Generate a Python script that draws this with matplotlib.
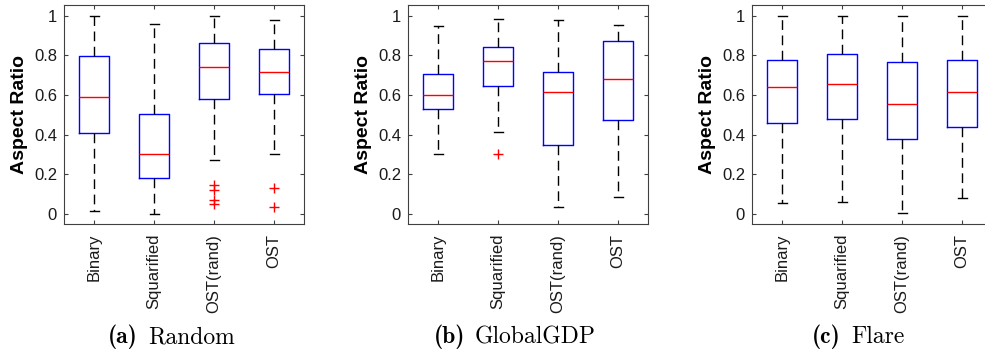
import numpy as np
import matplotlib
matplotlib.use("Agg")
import matplotlib.pyplot as plt

plt.rcParams['font.family'] = ['Liberation Sans', 'DejaVu Sans']

methods = ['Binary', 'Squarified', 'OST(rand)', 'OST']
yticks = [0, 0.2, 0.4, 0.6, 0.8, 1]
ytick_labels = ['0', '0.2', '0.4', '0.6', '0.8', '1']

# (a) Random
rand_lo = [0.015, 0.0, 0.272, 0.302]
rand_q1 = [0.408, 0.183, 0.580, 0.603]
rand_med = [0.590, 0.302, 0.743, 0.714]
rand_q3 = [0.798, 0.503, 0.862, 0.834]
rand_hi = [1.0, 0.958, 1.0, 0.980]
rand_out = [[], [], [0.146, 0.123, 0.072, 0.050], [0.131, 0.035]]

# (b) GlobalGDP
gdp_lo = [0.304, 0.413, 0.035, 0.087]
gdp_q1 = [0.528, 0.645, 0.348, 0.476]
gdp_med = [0.598, 0.771, 0.615, 0.679]
gdp_q3 = [0.707, 0.844, 0.714, 0.874]
gdp_hi = [0.950, 0.983, 0.976, 0.951]
gdp_out = [[], [0.304], [], []]

# (c) Flare
flare_lo = [0.057, 0.060, 0.003, 0.082]
flare_q1 = [0.457, 0.477, 0.378, 0.437]
flare_med = [0.642, 0.654, 0.556, 0.613]
flare_q3 = [0.778, 0.808, 0.768, 0.778]
flare_hi = [1.0, 1.0, 0.997, 1.0]
flare_out = [[], [], [], []]

W, H = 985, 355
fig = plt.figure(figsize=(W / 100, H / 100), dpi=100)

axes_left = [64, 408, 752]      # px
cap_split = [143, 470, 846]     # px, gap between "(a)" and the name
cap_tags = ['(a)', '(b)', '(c)']
cap_names = ['Random', 'GlobalGDP', 'Flare']
datasets = [
    (rand_lo, rand_q1, rand_med, rand_q3, rand_hi, rand_out),
    (gdp_lo, gdp_q1, gdp_med, gdp_q3, gdp_hi, gdp_out),
    (flare_lo, flare_q1, flare_med, flare_q3, flare_hi, flare_out),
]

edge = '#404040'

for k, (lo, q1, med, q3, hi, out) in enumerate(datasets):
    ax = fig.add_axes([axes_left[k] / W, (H - 224) / H, 240 / W, 219 / H])
    stats = []
    for i in range(len(methods)):
        stats.append(dict(whislo=lo[i], q1=q1[i], med=med[i], q3=q3[i],
                          whishi=hi[i], fliers=np.array(out[i]), label=methods[i]))
    ax.bxp(stats, positions=[1, 2, 3, 4], widths=0.5, capwidths=0.15,
           boxprops=dict(color='blue', lw=1),
           medianprops=dict(color='red', lw=1),
           whiskerprops=dict(color='black', lw=1, linestyle=(0, (7, 4))),
           capprops=dict(color='black', lw=1),
           flierprops=dict(marker='+', markeredgecolor='red', markersize=7,
                           linestyle='none'))
    ax.set_xlim(0.5, 4.5)
    ax.set_ylim(-0.05, 1.054)
    ax.set_yticks(yticks)
    ax.set_yticklabels(ytick_labels)
    ax.set_xticks([1, 2, 3, 4])
    ax.set_xticklabels(methods, rotation=90)
    ax.tick_params(direction='in', top=True, right=True, length=3,
                   width=0.8, color=edge, labelsize=12, labelcolor='#1a1a1a')
    ax.tick_params(axis='x', pad=7)
    ax.tick_params(axis='y', pad=5)
    for s in ax.spines.values():
        s.set_color(edge)
        s.set_linewidth(0.8)
    ax.set_ylabel('Aspect Ratio', fontsize=14, fontweight='bold', labelpad=4)

    # caption: bold tag + roman name, Computer Modern
    yb = (H - 343) / H
    fig.text((cap_split[k] - 5) / W, yb, cap_tags[k], ha='right', va='baseline',
             fontsize=17, family='cmb10')
    fig.text((cap_split[k] + 5) / W, yb, cap_names[k], ha='left', va='baseline',
             fontsize=17, family='cmr10')

fig.savefig('out.png', dpi=100)
